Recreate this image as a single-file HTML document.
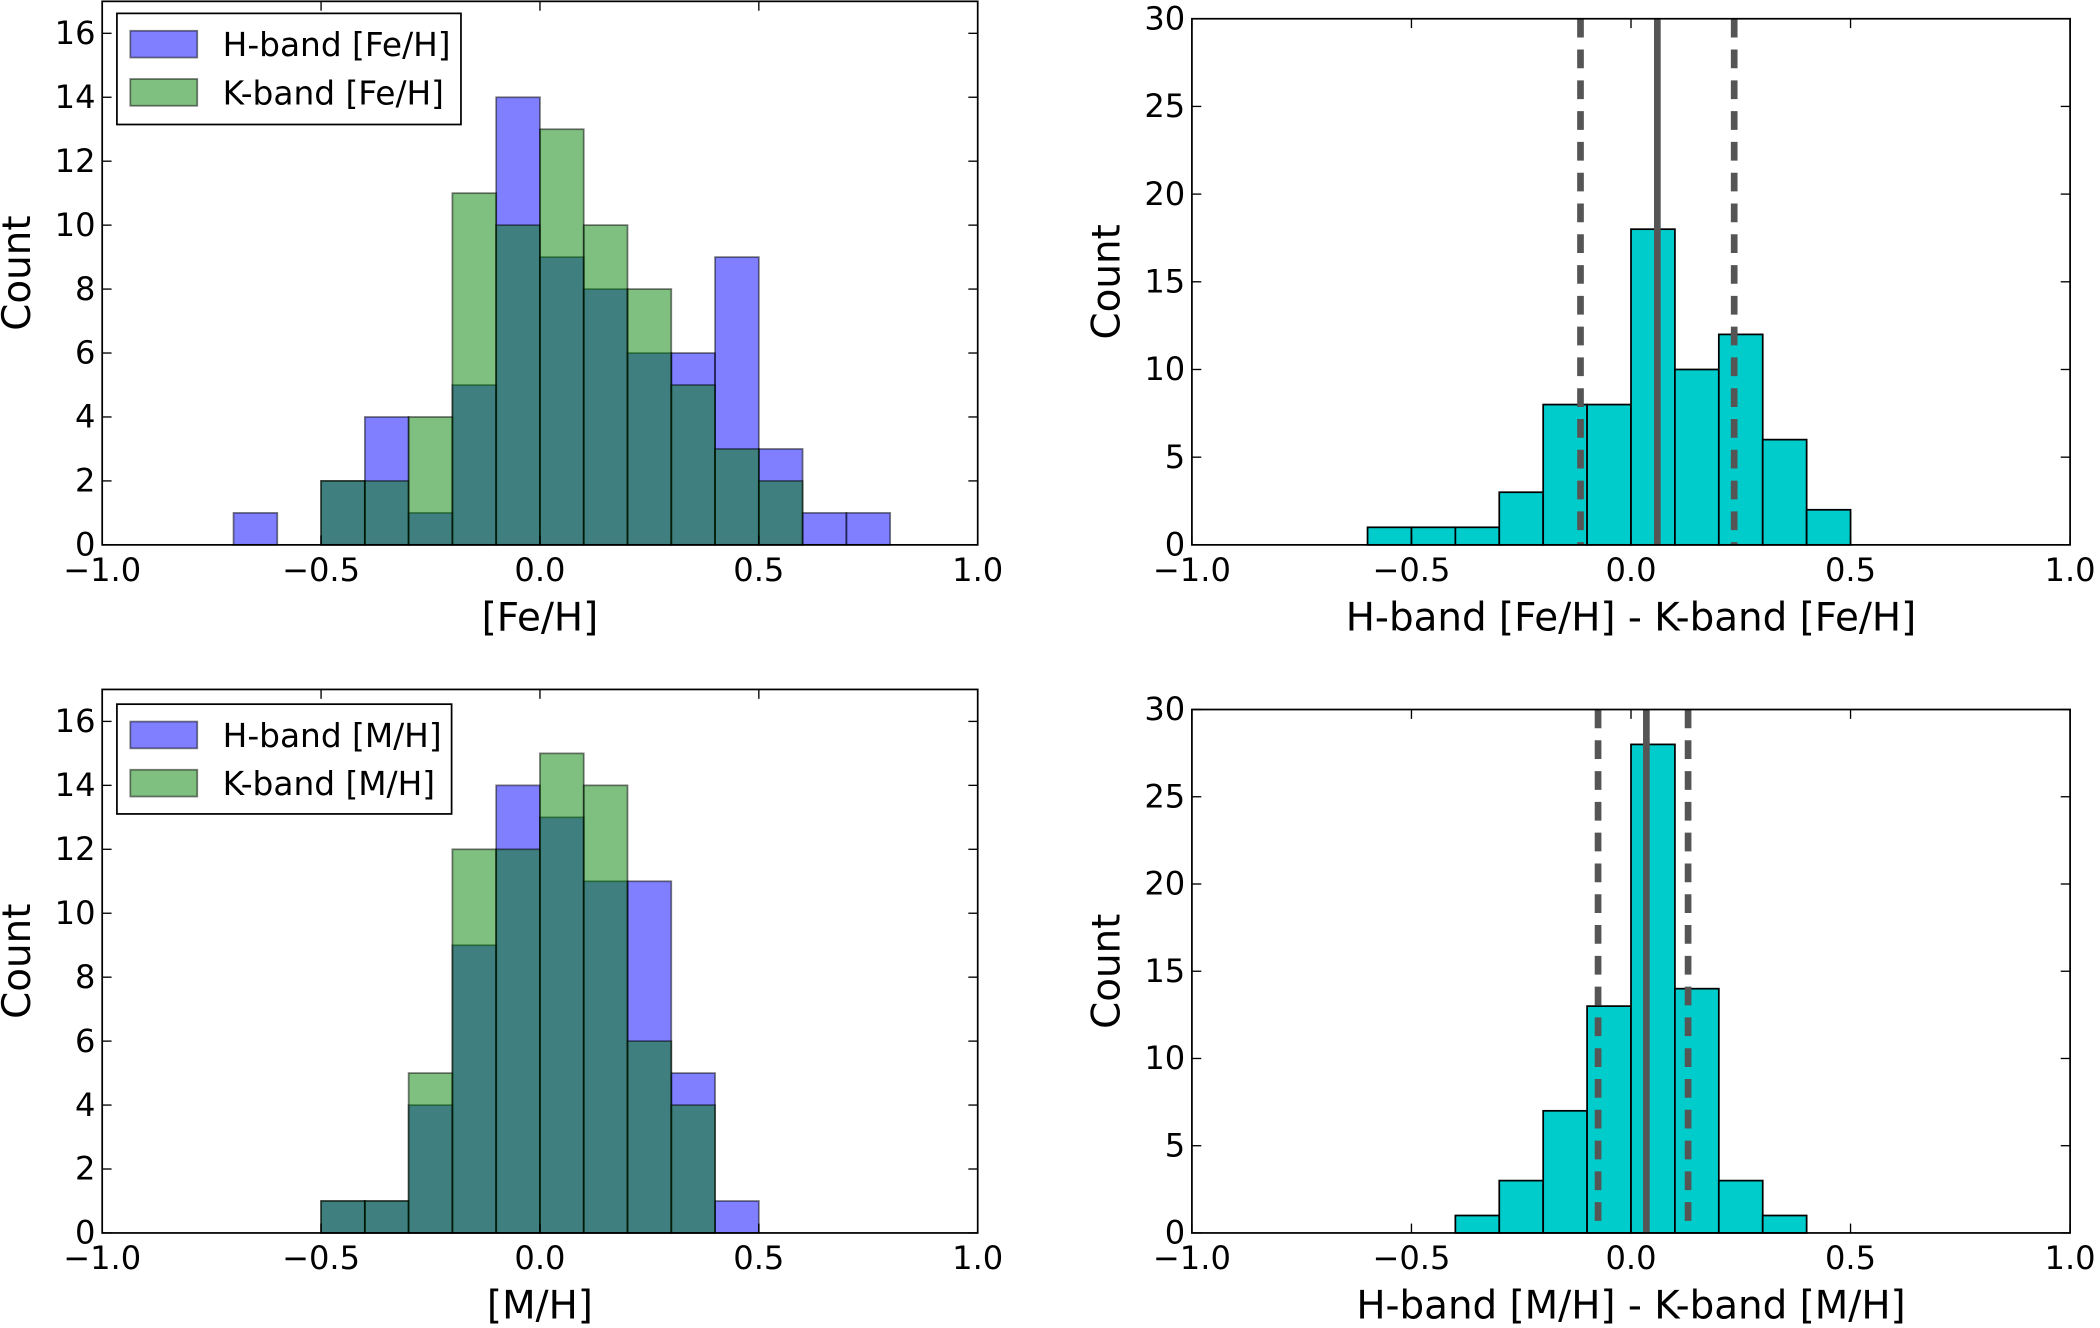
<!DOCTYPE html>
<html><head><meta charset="utf-8"><style>
html,body{margin:0;padding:0;background:#fff}
svg{display:block}
text{font-family:"DejaVu Sans","Liberation Sans",sans-serif;fill:#000}
</style></head><body>
<svg id="fig" width="2100" height="1328" viewBox="0 0 1568 992" xmlns="http://www.w3.org/2000/svg"></svg>
<script>
// Data
const binsFeLeft = [-0.7,-0.6,-0.5,-0.4,-0.3,-0.2,-0.1,0.0,0.1,0.2,0.3,0.4,0.5,0.6,0.7];
const hFe = [1,0,2,4,1,5,14,9,8,6,6,9,3,1,1];
const kFe = [0,0,2,2,4,11,10,13,10,8,5,3,2,0,0];
const binsMLeft = [-0.5,-0.4,-0.3,-0.2,-0.1,0.0,0.1,0.2,0.3,0.4];
const hM = [1,1,4,9,14,13,11,11,5,1];
const kM = [1,1,5,12,12,15,14,6,4,0];
const binsDiffFe = [-0.6,-0.5,-0.4,-0.3,-0.2,-0.1,0.0,0.1,0.2,0.3,0.4];
const diffFe = [1,1,1,3,8,8,18,10,12,6,2];
const linesFe = [-0.115,0.06,0.235];
const binsDiffM = [-0.4,-0.3,-0.2,-0.1,0.0,0.1,0.2,0.3];
const diffM = [1,3,7,13,28,14,3,1];
const linesM = [-0.075,0.035,0.13];
const xTicks = [-1.0,-0.5,0.0,0.5,1.0];
const xTickLabels = ["\u22121.0","\u22120.5","0.0","0.5","1.0"];
const yTicksL = [0,2,4,6,8,10,12,14,16];
const yTicksR = [0,5,10,15,20,25,30];

const NS="http://www.w3.org/2000/svg";
const svg=document.getElementById('fig');
function mk(tag,attrs,parent){const e=document.createElementNS(NS,tag);for(const k in attrs)e.setAttribute(k,attrs[k]);(parent||svg).appendChild(e);return e;}

function panel(name,box,ymax,yt,xlabel){
  const g=mk('g',{});
  
  
  const X=v=>box.x0+(v+1)/2*(box.x1-box.x0);
  const Y=v=>box.y1-v/ymax*(box.y1-box.y0);
  return {g,X,Y,box,yt,xlabel,name};
}
function frame(p){
  const {g,X,Y,box}=p;
  const ax=mk('rect',{x:box.x0,y:box.y0,width:box.x1-box.x0,height:box.y1-box.y0,fill:'none',stroke:'#000','stroke-width':1.3},g);
  
  
  xTicks.forEach((t,i)=>{
    const x=X(t);
    mk('line',{x1:x,x2:x,y1:box.y1,y2:box.y1-7,stroke:'#000','stroke-width':1},g);
    mk('line',{x1:x,x2:x,y1:box.y0,y2:box.y0+7,stroke:'#000','stroke-width':1},g);
    const tx=mk('text',{x:x,y:box.y1+27,'font-size':24,'text-anchor':'middle'},g);
    tx.textContent=xTickLabels[i];
    
    
  });
  p.yt.forEach(t=>{
    const y=Y(t);
    mk('line',{x1:box.x0,x2:box.x0+7,y1:y,y2:y,stroke:'#000','stroke-width':1},g);
    mk('line',{x1:box.x1,x2:box.x1-7,y1:y,y2:y,stroke:'#000','stroke-width':1},g);
    const tx=mk('text',{x:box.x0-5,y:y+8,'font-size':24,'text-anchor':'end'},g);
    tx.textContent=String(t);
    
    
  });
  const xl=mk('text',{x:(box.x0+box.x1)/2,y:box.y1+64,'font-size':29,'text-anchor':'middle'},g);
  xl.textContent=p.xlabel;
  
  
  const yc=(box.y0+box.y1)/2, xx=box.x0-54;
  const yl=mk('text',{x:xx,y:yc,'font-size':29,'text-anchor':'middle',transform:`rotate(-90 ${xx} ${yc})`},g);
  yl.textContent='Count';
  
  
}
function overlayHist(p,bins,h,k){
  const {g,X,Y}=p;
  bins.forEach((b,i)=>{
    if(h[i]>0){const r=mk('rect',{x:X(b),y:Y(h[i]),width:X(b+0.1)-X(b),height:Y(0)-Y(h[i]),fill:'rgba(0,0,255,0.5)',stroke:'rgba(0,0,0,0.5)','stroke-width':1.3},g);
      
      }
  });
  bins.forEach((b,i)=>{
    if(k[i]>0){const r=mk('rect',{x:X(b),y:Y(k[i]),width:X(b+0.1)-X(b),height:Y(0)-Y(k[i]),fill:'rgba(0,128,0,0.5)',stroke:'rgba(0,0,0,0.5)','stroke-width':1.3},g);
      
      }
  });
}
function diffHist(p,bins,v,lines){
  const {g,X,Y,box}=p;
  bins.forEach((b,i)=>{
    const r=mk('rect',{x:X(b),y:Y(v[i]),width:X(b+0.1)-X(b),height:Y(0)-Y(v[i]),fill:'#00cccc',stroke:'#000','stroke-width':1.3},g);
    
    
  });
  lines.forEach((l,i)=>{
    const ln=mk('line',{x1:X(l),x2:X(l),y1:box.y0,y2:box.y1,stroke:'#555','stroke-width':5,'stroke-dasharray':i===1?'none':'14,9'},g);
    
    
  });
}
function legend(p,box,labels){
  const g=mk('g',{},p.g);
  
  
  mk('rect',{x:box.x,y:box.y,width:box.w,height:box.h,fill:'#fff',stroke:'#000','stroke-width':1.3},g);
  const cols=['rgba(0,0,255,0.5)','rgba(0,128,0,0.5)'];
  labels.forEach((l,i)=>{
    const yy=box.y+23+i*36;
    const pa=mk('rect',{x:box.x+10,y:yy-10,width:50,height:20,fill:cols[i],stroke:'rgba(0,0,0,0.5)','stroke-width':1.3},g);
    
    
    const t=mk('text',{x:box.x+79,y:yy+9,'font-size':24.5},g);
    t.textContent=l;
  });
}

const p1=panel('fe-h-histogram',{x0:76,x1:730,y0:1,y1:407},17,yTicksL,'[Fe/H]');
overlayHist(p1,binsFeLeft,hFe,kFe); frame(p1);
legend(p1,{x:87,y:10,w:257,h:83},['H-band [Fe/H]','K-band [Fe/H]']);

const p2=panel('fe-h-difference-histogram',{x0:890,x1:1546,y0:14,y1:407},30,yTicksR,'H-band [Fe/H] - K-band [Fe/H]');
diffHist(p2,binsDiffFe,diffFe,linesFe); frame(p2);

const p3=panel('m-h-histogram',{x0:76,x1:730,y0:515,y1:921},17,yTicksL,'[M/H]');
overlayHist(p3,binsMLeft,hM,kM); frame(p3);
legend(p3,{x:87,y:526,w:250,h:82},['H-band [M/H]','K-band [M/H]']);

const p4=panel('m-h-difference-histogram',{x0:890,x1:1546,y0:530,y1:921},30,yTicksR,'H-band [M/H] - K-band [M/H]');
diffHist(p4,binsDiffM,diffM,linesM); frame(p4);
</script>
</body></html>
